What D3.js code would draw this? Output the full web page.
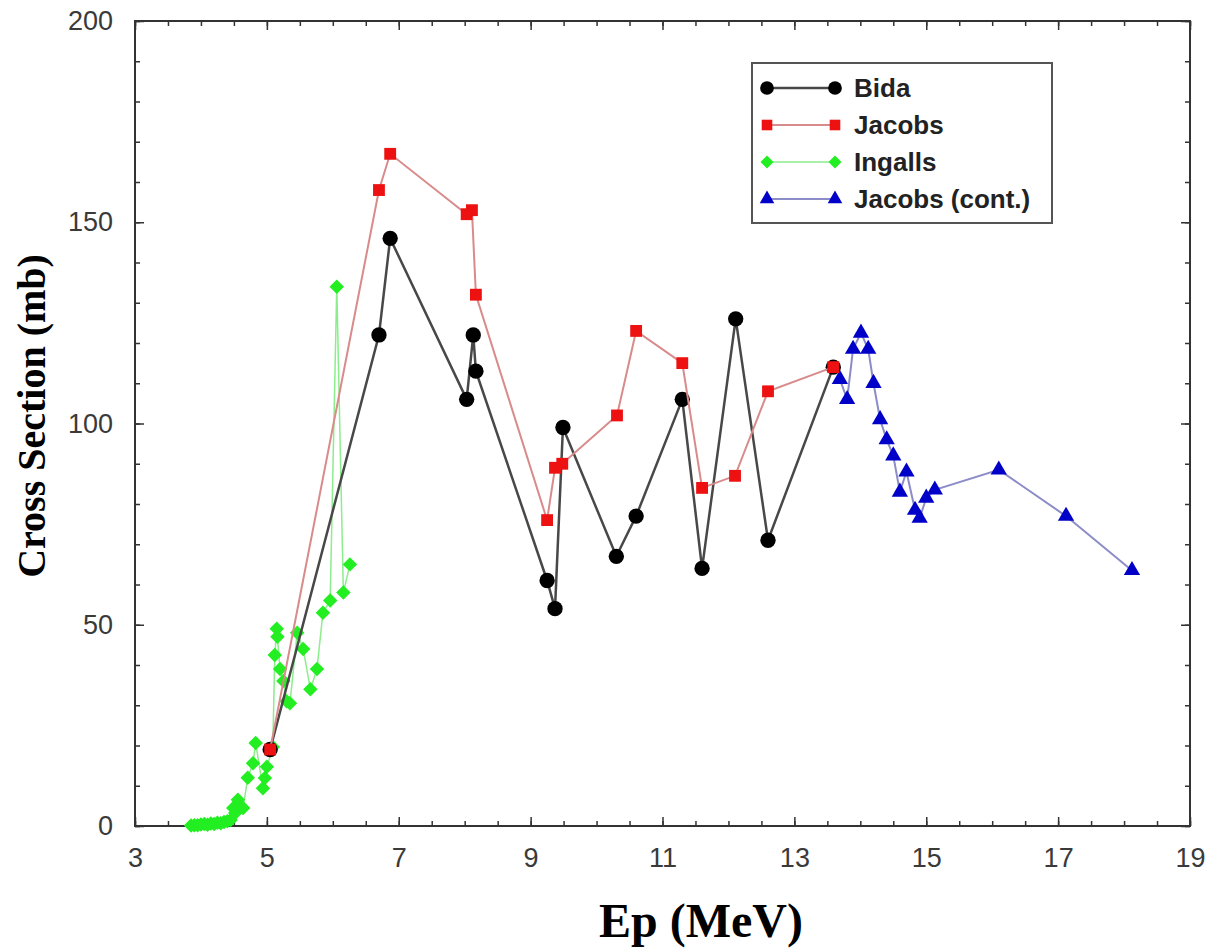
<!DOCTYPE html>
<html>
<head>
<meta charset="utf-8">
<script src="https://cdn.jsdelivr.net/npm/d3@7"></script>
<style>
  body { margin: 0; background: #fff; }
  text { font-family: "Liberation Sans", Arial, sans-serif; }
</style>
</head>
<body>
<script>
// data
var bidaE  = [5.05, 6.70, 6.87, 8.03, 8.13, 8.17, 9.25, 9.37, 9.49, 10.30, 10.60, 11.30, 11.60, 12.11, 12.60, 13.59];
var bidaCS = [19, 122, 146, 106, 122, 113, 61, 54, 99, 67, 77, 106, 64, 126, 71, 114];

var jacobsE  = [5.05, 6.70, 6.87, 8.03, 8.11, 8.17, 9.25, 9.37, 9.48, 10.31, 10.60, 11.30, 11.60, 12.10, 12.60, 13.59];
var jacobsCS = [19, 158, 167, 152, 153, 132, 76, 89, 90, 102, 123, 115, 84, 87, 108, 114];

var ingallsE  = [3.85, 3.90, 3.95, 4.00, 4.05, 4.10, 4.15, 4.20, 4.25, 4.30, 4.35, 4.40, 4.45, 4.49, 4.52, 4.56, 4.64,
                 4.71, 4.79, 4.83, 4.94, 4.97, 5.00, 5.09, 5.12, 5.15, 5.16, 5.20, 5.25, 5.30, 5.35, 5.46, 5.55,
                 5.66, 5.76, 5.85, 5.96, 6.06, 6.16, 6.26];
var ingallsCS = [0.1, 0.2, 0.2, 0.4, 0.5, 0.3, 0.6, 0.5, 0.8, 0.7, 1.0, 1.2, 1.5, 4.5, 3.2, 6.5, 4.5,
                 12, 15.6, 20.6, 9.4, 11.9, 14.7, 19.6, 42.5, 49, 47, 39, 36, 31, 30.5, 48, 44,
                 34, 39, 53, 56, 134, 58, 65];

var contE  = [13.69, 13.80, 13.89, 14.01, 14.12, 14.20, 14.30, 14.40, 14.50, 14.60, 14.70, 14.83, 14.90, 15.00, 15.13, 16.10, 17.12, 18.12];
var contCS = [111, 106, 118.5, 122.5, 118.5, 110, 101, 96, 92, 83, 88, 78.5, 76.5, 81.5, 83.5, 88.5, 77, 63.5];

var xTicks = [3, 5, 7, 9, 11, 13, 15, 17, 19];
var yTicks = [0, 50, 100, 150, 200];

var seriesNames = ["Bida", "Jacobs", "Ingalls", "Jacobs (cont.)"];

var width = 1211, height = 949;
var margin = { top: 21, right: 21, bottom: 123, left: 135 };
var plotW = width - margin.left - margin.right,
    plotH = height - margin.top - margin.bottom;

var x = d3.scaleLinear().domain([3, 19]).range([0, plotW]);
var y = d3.scaleLinear().domain([0, 200]).range([plotH, 0]);

var svg = d3.select("body").append("svg")
    .attr("width", width)
    .attr("height", height);

var g = svg.append("g")
    .attr("transform", "translate(" + margin.left + "," + margin.top + ")");

// minor ticks (inside the frame, all four sides)
var xMinor = d3.range(3, 19.01, 0.5);
var yMinor = d3.range(0, 200.01, 10);

function styleAxis(sel) {
    sel.selectAll(".domain").remove();
    sel.selectAll(".tick line").attr("stroke", "#333").attr("stroke-width", 1.5);
    sel.selectAll(".tick text").attr("fill", "#3a3a3a")
        .style("font-family", "'Liberation Sans', Arial, sans-serif")
        .style("font-size", "27px");
}

g.append("g").attr("transform", "translate(0," + plotH + ")")
    .call(d3.axisBottom(x).tickValues(xMinor).tickSize(-5).tickFormat(""))
    .call(styleAxis);
g.append("g")
    .call(d3.axisTop(x).tickValues(xMinor).tickSize(-5).tickFormat(""))
    .call(styleAxis);
g.append("g")
    .call(d3.axisLeft(y).tickValues(yMinor).tickSize(-5).tickFormat(""))
    .call(styleAxis);
g.append("g").attr("transform", "translate(" + plotW + ",0)")
    .call(d3.axisRight(y).tickValues(yMinor).tickSize(-5).tickFormat(""))
    .call(styleAxis);

// major ticks with labels
g.append("g").attr("transform", "translate(0," + plotH + ")")
    .call(d3.axisBottom(x).tickValues(xTicks).tickSize(-9).tickPadding(22).tickFormat(d3.format("d")))
    .call(styleAxis);
g.append("g")
    .call(d3.axisTop(x).tickValues(xTicks).tickSize(-9).tickFormat(""))
    .call(styleAxis);
g.append("g")
    .call(d3.axisLeft(y).tickValues(yTicks).tickSize(-9).tickPadding(22).tickFormat(d3.format("d")))
    .call(styleAxis);
g.append("g").attr("transform", "translate(" + plotW + ",0)")
    .call(d3.axisRight(y).tickValues(yTicks).tickSize(-9).tickFormat(""))
    .call(styleAxis);

// frame
g.append("rect")
    .attr("width", plotW)
    .attr("height", plotH)
    .attr("fill", "none")
    .attr("stroke", "#333")
    .attr("stroke-width", 2);

// series
var series = [
    { name: seriesNames[2], xs: ingallsE, ys: ingallsCS, line: "#8ced8c", lw: 1.5, fill: "#22ee22",
      symbol: d3.symbolSquare, size: 105, rotate: 45 },
    { name: seriesNames[3], xs: contE, ys: contCS, line: "#8c8cc8", lw: 2, fill: "#0000c8",
      symbol: d3.symbolTriangle, size: 115, rotate: 0 },
    { name: seriesNames[0], xs: bidaE, ys: bidaCS, line: "#484848", lw: 2.5, fill: "#000",
      symbol: d3.symbolCircle, size: 185, rotate: 0 },
    { name: seriesNames[1], xs: jacobsE, ys: jacobsCS, line: "#d98a8a", lw: 2, fill: "#ee1111",
      symbol: d3.symbolSquare, size: 140, rotate: 0 }
];

var line = d3.line()
    .x(function(d) { return x(d[0]); })
    .y(function(d) { return y(d[1]); });

series.forEach(function(s) {
    var pts = s.xs.map(function(v, i) { return [v, s.ys[i]]; });
    g.append("path")
        .datum(pts)
        .attr("fill", "none")
        .attr("stroke", s.line)
        .attr("stroke-width", s.lw)
        .attr("d", line);
    g.selectAll(null)
        .data(pts)
        .enter().append("path")
        .attr("transform", function(d) {
            return "translate(" + x(d[0]) + "," + y(d[1]) + ") rotate(" + s.rotate + ")";
        })
        .attr("d", d3.symbol().type(s.symbol).size(s.size))
        .attr("fill", s.fill);
});

// legend
var legendOrder = [series[2], series[3], series[0], series[1]];
var legend = svg.append("g").attr("transform", "translate(752,63)");
legend.append("rect")
    .attr("width", 300)
    .attr("height", 160)
    .attr("fill", "#fff")
    .attr("stroke", "#555")
    .attr("stroke-width", 2);

legendOrder.forEach(function(s, i) {
    var ly = 25 + i * 37;
    legend.append("line")
        .attr("x1", 15).attr("x2", 83)
        .attr("y1", ly).attr("y2", ly)
        .attr("stroke", s.line)
        .attr("stroke-width", s.lw);
    [15, 83].forEach(function(lx) {
        legend.append("path")
            .attr("transform", "translate(" + lx + "," + ly + ") rotate(" + s.rotate + ")")
            .attr("d", d3.symbol().type(s.symbol).size(s.size * 0.8))
            .attr("fill", s.fill);
    });
    legend.append("text")
        .attr("x", 102)
        .attr("y", ly)
        .attr("dy", "0.36em")
        .attr("fill", "#222")
        .style("font-size", "26px")
        .style("font-weight", "bold")
        .text(s.name);
});

// axis titles
svg.append("text")
    .attr("x", 701)
    .attr("y", 937)
    .attr("text-anchor", "middle")
    .style("font-family", "'Liberation Serif', 'Times New Roman', serif")
    .style("font-weight", "bold")
    .style("font-size", "48px")
    .attr("fill", "#000")
    .text("Ep (MeV)");

svg.append("text")
    .attr("transform", "translate(45,416) rotate(-90)")
    .attr("text-anchor", "middle")
    .style("font-family", "'Liberation Serif', 'Times New Roman', serif")
    .style("font-weight", "bold")
    .style("font-size", "40px")
    .attr("fill", "#000")
    .text("Cross Section (mb)");
</script>
</body>
</html>
